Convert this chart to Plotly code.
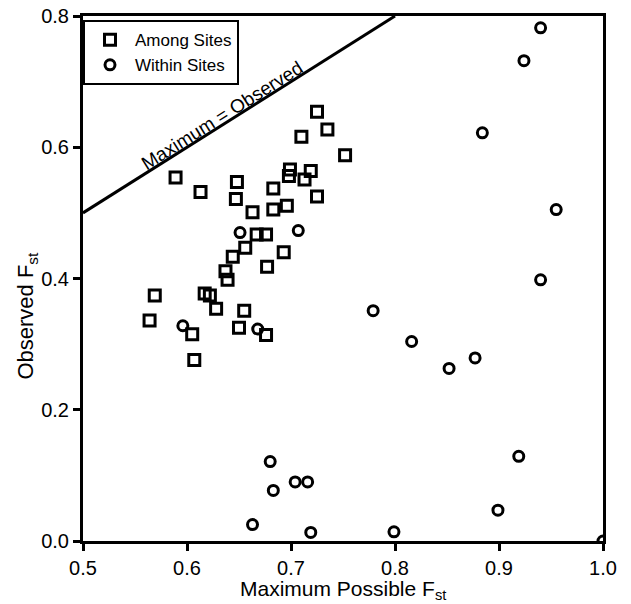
import plotly.graph_objects as go

# Among Sites (squares)
among_x = [0.725, 0.735, 0.710, 0.752, 0.589, 0.613, 0.648, 0.647, 0.663, 0.683,
           0.683, 0.696, 0.699, 0.698, 0.719, 0.713, 0.725, 0.667, 0.676, 0.656,
           0.644, 0.693, 0.677, 0.637, 0.639, 0.569, 0.617, 0.622, 0.628, 0.655,
           0.564, 0.605, 0.650, 0.676, 0.607]
among_y = [0.654, 0.627, 0.616, 0.588, 0.554, 0.532, 0.547, 0.521, 0.501, 0.537,
           0.505, 0.511, 0.566, 0.556, 0.564, 0.551, 0.525, 0.467, 0.467, 0.447,
           0.433, 0.440, 0.418, 0.411, 0.398, 0.374, 0.377, 0.374, 0.354, 0.351,
           0.336, 0.315, 0.325, 0.314, 0.276]

# Within Sites (circles)
within_x = [0.940, 0.924, 0.884, 0.955, 0.940, 0.779, 0.816, 0.852, 0.877, 0.919,
            0.899, 0.680, 0.683, 0.704, 0.716, 0.663, 0.719, 0.799, 1.000, 0.651,
            0.707, 0.596, 0.668]
within_y = [0.782, 0.732, 0.622, 0.505, 0.398, 0.351, 0.304, 0.263, 0.279, 0.129,
            0.047, 0.121, 0.077, 0.090, 0.090, 0.025, 0.013, 0.014, 0.000, 0.470,
            0.473, 0.328, 0.323]

# Maximum = Observed reference line
ref_x = [0.5, 0.8]
ref_y = [0.5, 0.8]

x_ticks = [0.5, 0.6, 0.7, 0.8, 0.9, 1.0]
y_ticks = [0.0, 0.2, 0.4, 0.6, 0.8]

FONT = "Arial, Liberation Sans, Helvetica, sans-serif"

fig = go.Figure()
fig.add_trace(go.Scatter(x=ref_x, y=ref_y, mode="lines",
                         line=dict(color="black", width=3),
                         showlegend=False, hoverinfo="skip"))
fig.add_trace(go.Scatter(x=among_x, y=among_y, mode="markers", name="Among Sites",
                         marker=dict(symbol="square-open", size=11, color="black",
                                     line=dict(width=3, color="black"))))
fig.add_trace(go.Scatter(x=within_x, y=within_y, mode="markers", name="Within Sites",
                         marker=dict(symbol="circle-open", size=10, color="black",
                                     line=dict(width=3, color="black"))))

fig.add_annotation(x=0.634, y=0.648, xref="x", yref="y",
                   text="Maximum = Observed", showarrow=False, textangle=-32.2,
                   xanchor="center", yanchor="middle",
                   font=dict(family=FONT, size=19, color="black"))

fig.add_annotation(x=-0.107, y=0.43, xref="paper", yref="paper",
                   text="Observed F<sub>st</sub>", showarrow=False, textangle=-90,
                   xanchor="center", yanchor="middle",
                   font=dict(family=FONT, size=22, color="black"))
fig.add_annotation(x=0.5, y=-0.065, xref="paper", yref="paper",
                   text="Maximum Possible F<sub>st</sub>", showarrow=False,
                   xanchor="center", yanchor="top",
                   font=dict(family=FONT, size=21, color="black"))

axis_common = dict(showgrid=False, zeroline=False, showline=True, linecolor="black",
                   linewidth=3, mirror=True, ticks="outside", ticklen=7, tickwidth=3,
                   tickcolor="black", tickformat=".1f", automargin=False,
                   tickfont=dict(family=FONT, size=20, color="black"))

fig.update_layout(
    width=631, height=604,
    margin=dict(l=83, r=28, t=16, b=63),
    paper_bgcolor="white", plot_bgcolor="white",
    font=dict(family=FONT, color="black"),
    xaxis=dict(range=[0.5, 1.0], tickvals=x_ticks, **axis_common),
    yaxis=dict(range=[0.0, 0.8], tickvals=y_ticks, **axis_common),
    legend=dict(x=0.0, y=0.992, xanchor="left", yanchor="top",
                bgcolor="white", bordercolor="black", borderwidth=2,
                font=dict(family=FONT, size=17, color="black"),
                tracegroupgap=0, itemwidth=40),
    showlegend=True,
)

fig.write_html("out.html", config={"displayModeBar": False},
               post_script="document.body.style.margin='0';document.body.style.padding='0';document.body.style.overflow='hidden';")
